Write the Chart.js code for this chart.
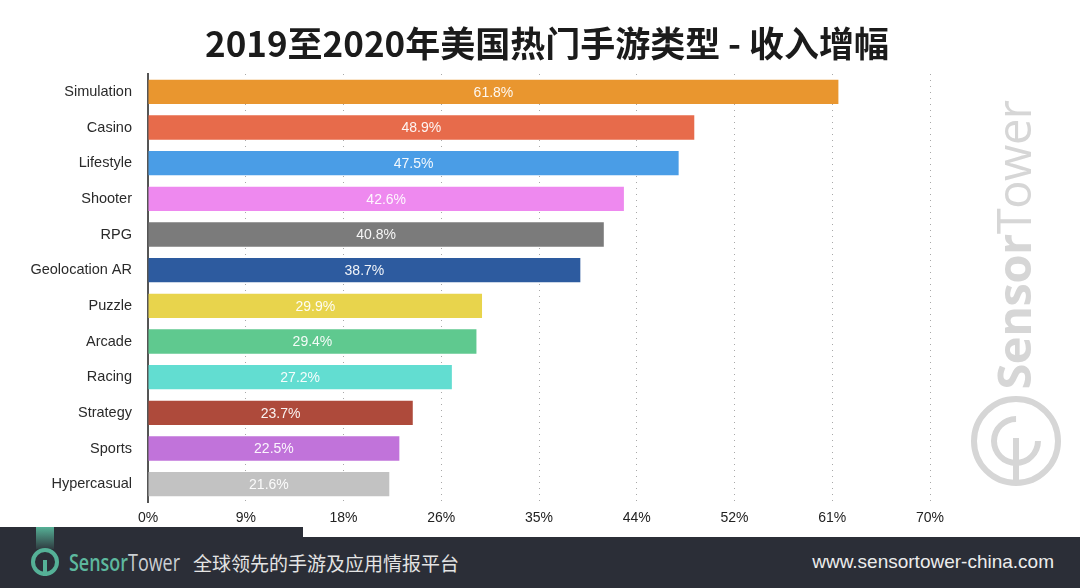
<!DOCTYPE html>
<html>
<head>
<meta charset="utf-8">
<script src="https://cdn.jsdelivr.net/npm/chart.js@4"></script>
<style>
  html, body { margin: 0; padding: 0; background: #fff; }
  #wrap { position: relative; width: 1080px; height: 588px; overflow: hidden; }
  #chart { position: absolute; left: 0; top: 0; }
  .title { position: absolute; left: 547px; top: 19px; transform: translateX(-50%); white-space: nowrap;
    font: 700 35px 'Noto Sans CJK SC', sans-serif; color: #1b1b1b; line-height: 46px; }
  .footer-tab { position: absolute; left: 0; top: 527px; width: 303px; height: 12px; background: #2b2e37; }
  .footer { position: absolute; left: 0; top: 537px; width: 1080px; height: 51px; background: #2b2e37; }
  .glow { position: absolute; left: 36px; top: 527px; width: 18px; height: 22px;
    background: linear-gradient(to bottom, rgba(90,190,160,0.9), rgba(90,190,160,0.1)); }
  .logo { position: absolute; left: 31px; top: 548px; width: 20px; height: 20px; border: 4px solid #55b197;
    border-radius: 50%; }
  .logo::after { content: ''; position: absolute; left: 8px; top: 8px; width: 4px; height: 16px; background: #55b197; }
  .brand { position: absolute; left: 69px; top: 546px; font: 400 23px 'Open Sans', 'Noto Sans', sans-serif;
    color: #ccd0d4; transform: scaleX(0.78); transform-origin: left center; white-space: nowrap; }
  .brand b { color: #5db89e; font-weight: 600; }
  .slogan { position: absolute; left: 193px; top: 549px; font: 400 19px 'Noto Sans CJK SC', sans-serif; color: #e4e4e4; }
  .url { position: absolute; right: 26px; top: 551px; font: 400 19px 'Liberation Sans Narrow', 'Liberation Sans', sans-serif; color: #ececec; }
  .wm { position: absolute; left: 1013px; top: 245px; transform: translate(-50%, -50%) rotate(-90deg);
    font: 700 47px 'Open Sans', 'Noto Sans', sans-serif; color: #d6d6d6; white-space: nowrap; letter-spacing: -0.5px; }
  .wm span { font-weight: 400; }
  .wm-logo { position: absolute; left: 971px; top: 396px; width: 78px; height: 78px; border: 6px solid #d6d6d6; border-radius: 50%; }
  .wm-logo::before { content: ''; position: absolute; left: 14px; top: 14px; width: 38px; height: 38px;
    border: 6px solid #d6d6d6; border-radius: 50%; border-right-color: transparent; transform: rotate(-45deg); }
  .wm-logo::after { content: ''; position: absolute; left: 36px; top: 36px; width: 6px; height: 42px; background: #d6d6d6; }
</style>
</head>
<body>
<div id="wrap">
  <canvas id="chart" width="1080" height="588"></canvas>
  <div class="title">2019至2020年美国热门手游类型 - 收入增幅</div>
  <div class="wm">Sensor<span>Tower</span></div>
  <div class="wm-logo"></div>
  <div class="footer-tab"></div>
  <div class="footer"></div>
  <div class="glow"></div>
  <div class="logo"></div>
  <div class="brand"><b>Sensor</b>Tower</div>
  <div class="slogan">全球领先的手游及应用情报平台</div>
  <div class="url">www.sensortower-china.com</div>
</div>
<script>
// Data
const genres = ['Simulation', 'Casino', 'Lifestyle', 'Shooter', 'RPG', 'Geolocation AR',
  'Puzzle', 'Arcade', 'Racing', 'Strategy', 'Sports', 'Hypercasual'];
const growth = [61.8, 48.9, 47.5, 42.6, 40.8, 38.7, 29.9, 29.4, 27.2, 23.7, 22.5, 21.6];
const barColors = ['#e9962f', '#e76b4b', '#4a9de6', '#ee89ef', '#7b7b7b', '#2d5b9f',
  '#e8d44c', '#5fc98f', '#62ddd1', '#ae4a3b', '#c173da', '#c2c2c2'];
const xTickLabels = ['0%', '9%', '18%', '26%', '35%', '44%', '52%', '61%', '70%'];

/** Value labels centred in each bar */
const barLabels = {
  id: 'barLabels',
  afterDatasetsDraw(chart) {
    const ctx = chart.ctx;
    const meta = chart.getDatasetMeta(0);
    ctx.save();
    ctx.font = "14px 'Liberation Sans', Arial, sans-serif";
    ctx.fillStyle = 'rgba(255,255,255,0.93)';
    ctx.textAlign = 'center';
    ctx.textBaseline = 'middle';
    meta.data.forEach((bar, i) => {
      const x = (bar.base + bar.x) / 2;
      ctx.fillText(growth[i].toFixed(1) + '%', x, bar.y + 1);
    });
    ctx.restore();
  }
};

new Chart(document.getElementById('chart'), {
  type: 'bar',
  data: {
    labels: genres,
    datasets: [{
      data: growth,
      backgroundColor: barColors,
      borderWidth: 0,
      barPercentage: 0.68,
      categoryPercentage: 1
    }]
  },
  options: {
    indexAxis: 'y',
    responsive: false,
    animation: false,
    layout: { padding: { left: 0, right: 150, top: 74, bottom: 60 } },
    plugins: {
      legend: { display: false },
      tooltip: { enabled: false }
    },
    scales: {
      x: {
        min: 0,
        max: 70,
        afterFit: (scale) => { scale.height = 26; },
        ticks: {
          stepSize: 8.75,
          padding: 8,
          color: '#222',
          font: { family: "'Liberation Sans Narrow', 'Liberation Sans', sans-serif", size: 14 },
          callback: (v, i) => xTickLabels[i]
        },
        grid: { color: '#a8a8a8', lineWidth: 1, drawTicks: false },
        border: { display: false, dash: [1, 5] }
      },
      y: {
        afterFit: (scale) => { scale.width = 148; },
        ticks: {
          padding: 16,
          color: '#2a2a2a',
          font: { family: "'Liberation Sans', Arial, sans-serif", size: 14.5 }
        },
        grid: { display: false, drawTicks: false },
        border: { display: true, color: '#555', width: 2 }
      }
    }
  },
  plugins: [barLabels]
});
</script>
</body>
</html>
